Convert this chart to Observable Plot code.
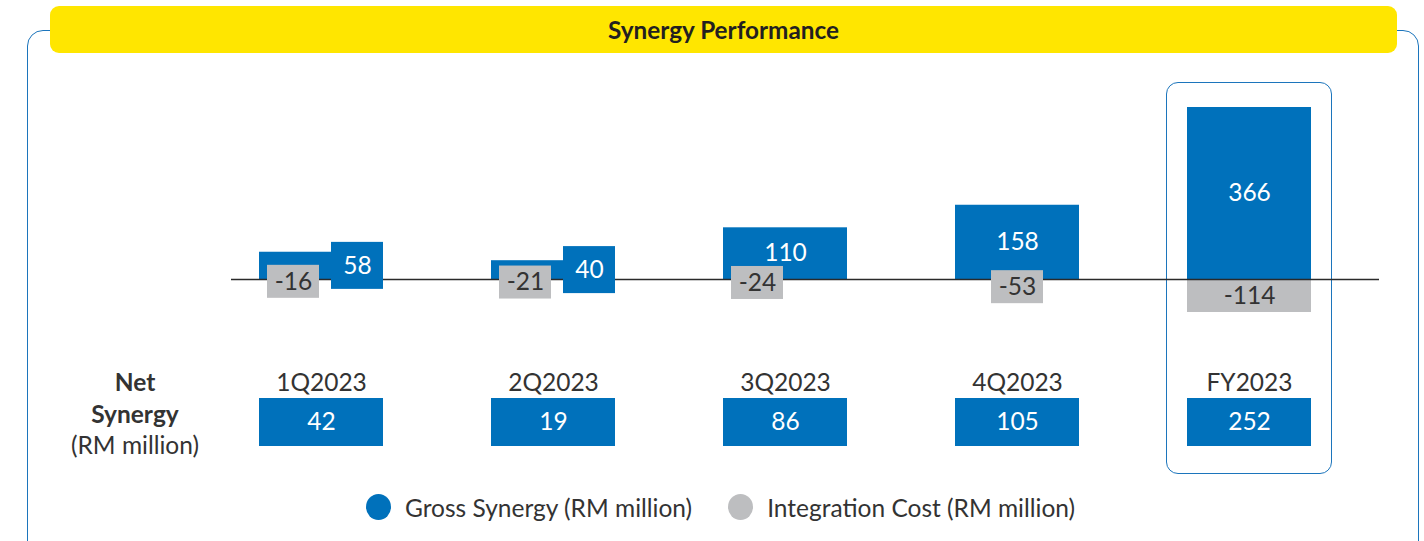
<!DOCTYPE html>
<html>
<head>
<meta charset="utf-8">
<script src="https://cdn.jsdelivr.net/npm/d3@7"></script>
<script src="https://cdn.jsdelivr.net/npm/@observablehq/plot@0.6"></script>
<style>
  html, body { margin: 0; padding: 0; background: #fff; }
  body { width: 1424px; height: 541px; overflow: hidden; position: relative; font-family: Lato, "Open Sans", sans-serif; color: #333; }
  #frame { position: absolute; left: 27px; top: 30px; width: 1392px; height: 560px; box-sizing: border-box;
           border: 1.5px solid #1C75BC; border-radius: 16px; }
  #title { position: absolute; left: 50px; top: 6px; width: 1347px; height: 47px; background: #FFE600;
           border-radius: 9px; text-align: center; line-height: 48px; font-weight: 700; font-size: 24.3px; color: #231F20; }
  #fyFrame { position: absolute; left: 1166px; top: 82px; width: 166px; height: 392px; box-sizing: border-box;
             border: 1.5px solid #1C75BC; border-radius: 12px; }
  #chartA { position: absolute; left: 0; top: 60px; }
  #chartB { position: absolute; left: 0; top: 340px; }
  #netLabel { position: absolute; left: 55px; top: 366px; width: 160px; text-align: center; font-size: 24.5px; line-height: 31.5px; color: #333; }
  #legend { position: absolute; left: 366px; top: 494px; height: 26px; display: flex; align-items: center; font-size: 24.5px; color: #333; }
  #legend .item { display: flex; align-items: center; margin-right: 36px; }
  #legend .sw { width: 25px; height: 26px; border-radius: 50%; margin-right: 14px; }
</style>
</head>
<body>
<div id="frame"></div>
<div id="title"></div>
<div id="fyFrame"></div>
<div id="chartA"></div>
<div id="chartB"></div>
<div id="netLabel"></div>
<div id="legend"></div>
<script>
// ---- data ----
const titleText = "Synergy Performance";
const periods = ["1Q2023", "2Q2023", "3Q2023", "4Q2023", "FY2023"];
const grossSynergy = [58, 40, 110, 158, 366];
const integrationCost = [-16, -21, -24, -53, -114];
const netSynergy = [42, 19, 86, 105, 252];
const seriesNames = ["Gross Synergy (RM million)", "Integration Cost (RM million)"];
const netLabelLines = ["Net", "Synergy", "(RM million)"];

const BLUE = "#0071BB", GREY = "#BDBEC0", INK = "#333333";

const rows = periods.map((p, i) => ({period: p, gross: grossSynergy[i], cost: integrationCost[i], net: netSynergy[i]}));
const total = rows.filter(d => d.period.startsWith("FY"));
const quarters = rows.filter(d => !d.period.startsWith("FY"));
const smallGross = rows.filter(d => d.gross < 100);
const bigGross = rows.filter(d => d.gross >= 100);
const costShift = quarters.filter(d => Math.abs(d.cost) < 30);
const costCentre = quarters.filter(d => Math.abs(d.cost) >= 30);

const xScale = {type: "band", domain: periods, range: [205, 1365], padding: 0, axis: null};
const style = {fontFamily: "Lato, 'Open Sans', sans-serif", background: "transparent", overflow: "visible"};
const fs = 24.5;

// ---- bars chart ----
const chartA = Plot.plot({
  width: 1424, height: 270,
  marginLeft: 231, marginRight: 45, marginTop: 0, marginBottom: 0,
  style,
  x: xScale,
  y: {type: "linear", domain: [d3.min(integrationCost), 0, d3.max(grossSynergy)], range: [252, 219, 47], axis: null},
  marks: [
    Plot.barY(rows, {x: "period", y: "gross", fill: BLUE, insetLeft: 54, insetRight: 54}),
    Plot.barY(total, {x: "period", y: "cost", fill: GREY, insetLeft: 54, insetRight: 54}),
    Plot.ruleY([0], {stroke: "#2a2a2a", strokeWidth: 1.3}),
    Plot.barY(smallGross, {x: "period", y1: d => d.gross / 2, y2: d => d.gross / 2, fill: BLUE,
      insetLeft: 126, insetRight: 54, insetTop: -23.5, insetBottom: -23.5}),
    Plot.text(smallGross, {x: "period", y: d => d.gross / 2, text: d => String(d.gross), dx: 36, fill: "white", fontSize: fs}),
    Plot.text(bigGross, {x: "period", y: d => d.gross / 2, text: d => String(d.gross), fill: "white", fontSize: fs}),
    Plot.barY(costShift, {x: "period", y1: d => d.cost / 2, y2: d => d.cost / 2, fill: GREY,
      insetLeft: 62, insetRight: 118, insetTop: -16.5, insetBottom: -16.5}),
    Plot.text(costShift, {x: "period", y: d => d.cost / 2, text: d => String(d.cost), dx: -28, fill: INK, fontSize: fs}),
    Plot.barY(costCentre, {x: "period", y1: d => d.cost / 2, y2: d => d.cost / 2, fill: GREY,
      insetLeft: 90, insetRight: 90, insetTop: -16.5, insetBottom: -16.5}),
    Plot.text(costCentre, {x: "period", y: d => d.cost / 2, text: d => String(d.cost), fill: INK, fontSize: fs}),
    Plot.text(total, {x: "period", y: d => d.cost / 2, text: d => String(d.cost), fill: INK, fontSize: fs})
  ]
});
document.getElementById("chartA").append(chartA);

// ---- net synergy row ----
const chartB = Plot.plot({
  width: 1424, height: 120,
  marginLeft: 231, marginRight: 45, marginTop: 58, marginBottom: 14,
  style,
  x: xScale,
  marks: [
    Plot.text(periods, {x: d => d, text: d => d, frameAnchor: "top", dy: -25, fill: INK, fontSize: fs}),
    Plot.cell(rows, {x: "period", fill: BLUE, insetLeft: 54, insetRight: 54}),
    Plot.text(rows, {x: "period", text: d => String(d.net), frameAnchor: "middle", fill: "white", fontSize: fs})
  ]
});
document.getElementById("chartB").append(chartB);

// ---- html text ----
document.getElementById("title").textContent = titleText;
document.getElementById("netLabel").innerHTML =
  `<b>${netLabelLines[0]}</b><br><b>${netLabelLines[1]}</b><br>${netLabelLines[2]}`;
const legend = document.getElementById("legend");
[BLUE, GREY].forEach((c, i) => {
  const item = document.createElement("div");
  item.className = "item";
  const sw = document.createElement("span");
  sw.className = "sw";
  sw.style.background = c;
  const t = document.createElement("span");
  t.textContent = seriesNames[i];
  item.append(sw, t);
  legend.append(item);
});
</script>
</body>
</html>
